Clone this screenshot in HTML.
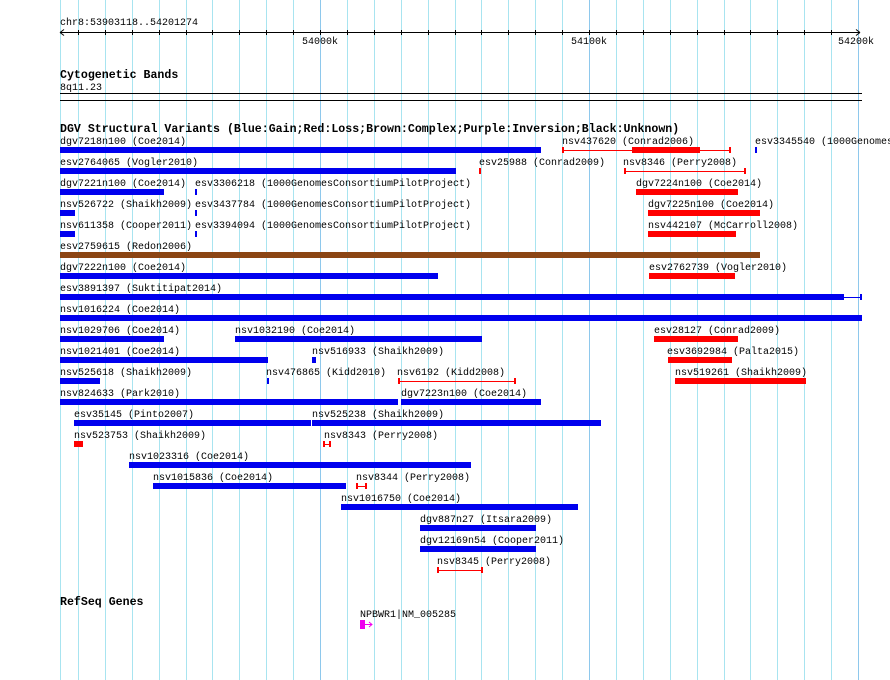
<!DOCTYPE html>
<html><head><meta charset="utf-8"><style>
html,body{margin:0;padding:0;background:#fff;width:890px;height:680px;overflow:hidden}
svg{display:block}
text{font-family:"Liberation Mono",monospace;font-size:10px;fill:#000}
.b{font-weight:bold;font-size:11.6px}
</style></head><body>
<svg width="890" height="680" xmlns="http://www.w3.org/2000/svg">
<g stroke="#a8e4f0" stroke-width="1">
<line x1="60.5" y1="0" x2="60.5" y2="680"/>
<line x1="78.5" y1="0" x2="78.5" y2="680"/><line x1="105.5" y1="0" x2="105.5" y2="680"/><line x1="132.5" y1="0" x2="132.5" y2="680"/><line x1="159.5" y1="0" x2="159.5" y2="680"/><line x1="186.5" y1="0" x2="186.5" y2="680"/><line x1="212.5" y1="0" x2="212.5" y2="680"/><line x1="239.5" y1="0" x2="239.5" y2="680"/><line x1="266.5" y1="0" x2="266.5" y2="680"/><line x1="293.5" y1="0" x2="293.5" y2="680"/>
<line x1="347.5" y1="0" x2="347.5" y2="680"/><line x1="374.5" y1="0" x2="374.5" y2="680"/><line x1="401.5" y1="0" x2="401.5" y2="680"/><line x1="428.5" y1="0" x2="428.5" y2="680"/><line x1="455.5" y1="0" x2="455.5" y2="680"/><line x1="481.5" y1="0" x2="481.5" y2="680"/><line x1="508.5" y1="0" x2="508.5" y2="680"/><line x1="535.5" y1="0" x2="535.5" y2="680"/><line x1="562.5" y1="0" x2="562.5" y2="680"/>
<line x1="616.5" y1="0" x2="616.5" y2="680"/><line x1="643.5" y1="0" x2="643.5" y2="680"/><line x1="670.5" y1="0" x2="670.5" y2="680"/><line x1="697.5" y1="0" x2="697.5" y2="680"/><line x1="724.5" y1="0" x2="724.5" y2="680"/><line x1="750.5" y1="0" x2="750.5" y2="680"/><line x1="777.5" y1="0" x2="777.5" y2="680"/><line x1="804.5" y1="0" x2="804.5" y2="680"/><line x1="831.5" y1="0" x2="831.5" y2="680"/>
</g>
<g stroke="#8ec8ec">
<line x1="320.5" y1="0" x2="320.5" y2="680"/><line x1="589.5" y1="0" x2="589.5" y2="680"/><line x1="858.5" y1="0" x2="858.5" y2="680"/>
</g>
<text x="60" y="25">chr8:53903118..54201274</text>
<line x1="60" y1="32.5" x2="860" y2="32.5" stroke="#000"/>
<path d="M60 32.5 l4 -3 M60 32.5 l4 3 M860 32.5 l-4 -3 M860 32.5 l-4 3" stroke="#000" fill="none"/>
<g stroke="#000">
<line x1="78.5" y1="30" x2="78.5" y2="35"/><line x1="105.5" y1="30" x2="105.5" y2="35"/><line x1="132.5" y1="30" x2="132.5" y2="35"/><line x1="159.5" y1="30" x2="159.5" y2="35"/><line x1="186.5" y1="30" x2="186.5" y2="35"/><line x1="212.5" y1="30" x2="212.5" y2="35"/><line x1="239.5" y1="30" x2="239.5" y2="35"/><line x1="266.5" y1="30" x2="266.5" y2="35"/><line x1="293.5" y1="30" x2="293.5" y2="35"/><line x1="320.5" y1="30" x2="320.5" y2="35"/>
<line x1="347.5" y1="30" x2="347.5" y2="35"/><line x1="374.5" y1="30" x2="374.5" y2="35"/><line x1="401.5" y1="30" x2="401.5" y2="35"/><line x1="428.5" y1="30" x2="428.5" y2="35"/><line x1="455.5" y1="30" x2="455.5" y2="35"/><line x1="481.5" y1="30" x2="481.5" y2="35"/><line x1="508.5" y1="30" x2="508.5" y2="35"/><line x1="535.5" y1="30" x2="535.5" y2="35"/><line x1="562.5" y1="30" x2="562.5" y2="35"/><line x1="589.5" y1="30" x2="589.5" y2="35"/>
<line x1="616.5" y1="30" x2="616.5" y2="35"/><line x1="643.5" y1="30" x2="643.5" y2="35"/><line x1="670.5" y1="30" x2="670.5" y2="35"/><line x1="697.5" y1="30" x2="697.5" y2="35"/><line x1="724.5" y1="30" x2="724.5" y2="35"/><line x1="750.5" y1="30" x2="750.5" y2="35"/><line x1="777.5" y1="30" x2="777.5" y2="35"/><line x1="804.5" y1="30" x2="804.5" y2="35"/><line x1="831.5" y1="30" x2="831.5" y2="35"/>
</g>
<text x="302" y="44">54000k</text>
<text x="571" y="44">54100k</text>
<text x="838" y="44">54200k</text>
<text class="b" x="60" y="78">Cytogenetic Bands</text>
<text x="60" y="90">8q11.23</text>
<line x1="60" y1="93.5" x2="862" y2="93.5" stroke="#000"/>
<line x1="60" y1="100.5" x2="862" y2="100.5" stroke="#000"/>
<text class="b" x="60" y="132">DGV Structural Variants (Blue:Gain;Red:Loss;Brown:Complex;Purple:Inversion;Black:Unknown)</text>

<text x="60" y="144">dgv7218n100 (Coe2014)</text><rect x="60" y="147" width="481" height="6" fill="#0000ee"/>
<text x="562" y="144">nsv437620 (Conrad2006)</text><line x1="562" y1="150.5" x2="731" y2="150.5" stroke="#f00"/><rect x="562" y="147" width="2" height="6" fill="#f00"/><rect x="729" y="147" width="2" height="6" fill="#f00"/><rect x="632" y="147" width="68" height="6" fill="#f00"/>
<text x="755" y="144">esv3345540 (1000GenomesConsortiumPilotProject)</text><rect x="755" y="147" width="2" height="6" fill="#0000ee"/>
<text x="60" y="165">esv2764065 (Vogler2010)</text><rect x="60" y="168" width="396" height="6" fill="#0000ee"/>
<text x="479" y="165">esv25988 (Conrad2009)</text><rect x="479" y="168" width="2" height="6" fill="#f00"/>
<text x="623" y="165">nsv8346 (Perry2008)</text><line x1="624" y1="171.5" x2="746" y2="171.5" stroke="#f00"/><rect x="624" y="168" width="2" height="6" fill="#f00"/><rect x="744" y="168" width="2" height="6" fill="#f00"/>
<text x="60" y="186">dgv7221n100 (Coe2014)</text><rect x="60" y="189" width="104" height="6" fill="#0000ee"/>
<text x="195" y="186">esv3306218 (1000GenomesConsortiumPilotProject)</text><rect x="195" y="189" width="2" height="6" fill="#0000ee"/>
<text x="636" y="186">dgv7224n100 (Coe2014)</text><rect x="636" y="189" width="102" height="6" fill="#f00"/>
<text x="60" y="207">nsv526722 (Shaikh2009)</text><rect x="60" y="210" width="15" height="6" fill="#0000ee"/>
<text x="195" y="207">esv3437784 (1000GenomesConsortiumPilotProject)</text><rect x="195" y="210" width="2" height="6" fill="#0000ee"/>
<text x="648" y="207">dgv7225n100 (Coe2014)</text><rect x="648" y="210" width="112" height="6" fill="#f00"/>
<text x="60" y="228">nsv611358 (Cooper2011)</text><rect x="60" y="231" width="15" height="6" fill="#0000ee"/>
<text x="195" y="228">esv3394094 (1000GenomesConsortiumPilotProject)</text><rect x="195" y="231" width="2" height="6" fill="#0000ee"/>
<text x="648" y="228">nsv442107 (McCarroll2008)</text><rect x="648" y="231" width="88" height="6" fill="#f00"/>
<text x="60" y="249">esv2759615 (Redon2006)</text><rect x="60" y="252" width="700" height="6" fill="#8b4513"/>
<text x="60" y="270">dgv7222n100 (Coe2014)</text><rect x="60" y="273" width="378" height="6" fill="#0000ee"/>
<text x="649" y="270">esv2762739 (Vogler2010)</text><rect x="649" y="273" width="86" height="6" fill="#f00"/>
<text x="60" y="291">esv3891397 (Suktitipat2014)</text><rect x="60" y="294" width="784" height="6" fill="#0000ee"/><line x1="844" y1="297.5" x2="861" y2="297.5" stroke="#0000ee"/><rect x="860" y="294" width="2" height="6" fill="#0000ee"/>
<text x="60" y="312">nsv1016224 (Coe2014)</text><rect x="60" y="315" width="802" height="6" fill="#0000ee"/>
<text x="60" y="333">nsv1029706 (Coe2014)</text><rect x="60" y="336" width="104" height="6" fill="#0000ee"/>
<text x="235" y="333">nsv1032190 (Coe2014)</text><rect x="235" y="336" width="247" height="6" fill="#0000ee"/>
<text x="654" y="333">esv28127 (Conrad2009)</text><rect x="654" y="336" width="84" height="6" fill="#f00"/>
<text x="60" y="354">nsv1021401 (Coe2014)</text><rect x="60" y="357" width="208" height="6" fill="#0000ee"/>
<text x="312" y="354">nsv516933 (Shaikh2009)</text><rect x="312" y="357" width="4" height="6" fill="#0000ee"/>
<text x="667" y="354">esv3692984 (Palta2015)</text><rect x="668" y="357" width="64" height="6" fill="#f00"/>
<text x="60" y="375">nsv525618 (Shaikh2009)</text><rect x="60" y="378" width="40" height="6" fill="#0000ee"/>
<text x="266" y="375">nsv476865 (Kidd2010)</text><rect x="267" y="378" width="2" height="6" fill="#0000ee"/>
<text x="397" y="375">nsv6192 (Kidd2008)</text><line x1="398" y1="381.5" x2="516" y2="381.5" stroke="#f00"/><rect x="398" y="378" width="2" height="6" fill="#f00"/><rect x="514" y="378" width="2" height="6" fill="#f00"/>
<text x="675" y="375">nsv519261 (Shaikh2009)</text><rect x="675" y="378" width="131" height="6" fill="#f00"/>
<text x="60" y="396">nsv824633 (Park2010)</text><rect x="60" y="399" width="338" height="6" fill="#0000ee"/>
<text x="401" y="396">dgv7223n100 (Coe2014)</text><rect x="401" y="399" width="140" height="6" fill="#0000ee"/>
<text x="74" y="417">esv35145 (Pinto2007)</text><rect x="74" y="420" width="237" height="6" fill="#0000ee"/>
<text x="312" y="417">nsv525238 (Shaikh2009)</text><rect x="312" y="420" width="289" height="6" fill="#0000ee"/>
<text x="74" y="438">nsv523753 (Shaikh2009)</text><rect x="74" y="441" width="9" height="6" fill="#f00"/>
<text x="324" y="438">nsv8343 (Perry2008)</text><line x1="323" y1="444.5" x2="331" y2="444.5" stroke="#f00"/><rect x="323" y="441" width="2" height="6" fill="#f00"/><rect x="329" y="441" width="2" height="6" fill="#f00"/>
<text x="129" y="459">nsv1023316 (Coe2014)</text><rect x="129" y="462" width="342" height="6" fill="#0000ee"/>
<text x="153" y="480">nsv1015836 (Coe2014)</text><rect x="153" y="483" width="193" height="6" fill="#0000ee"/>
<text x="356" y="480">nsv8344 (Perry2008)</text><line x1="356" y1="486.5" x2="367" y2="486.5" stroke="#f00"/><rect x="356" y="483" width="2" height="6" fill="#f00"/><rect x="365" y="483" width="2" height="6" fill="#f00"/>
<text x="341" y="501">nsv1016750 (Coe2014)</text><rect x="341" y="504" width="237" height="6" fill="#0000ee"/>
<text x="420" y="522">dgv887n27 (Itsara2009)</text><rect x="420" y="525" width="116" height="6" fill="#0000ee"/>
<text x="420" y="543">dgv12169n54 (Cooper2011)</text><rect x="420" y="546" width="116" height="6" fill="#0000ee"/>
<text x="437" y="564">nsv8345 (Perry2008)</text><line x1="437" y1="570.5" x2="483" y2="570.5" stroke="#f00"/><rect x="437" y="567" width="2" height="6" fill="#f00"/><rect x="481" y="567" width="2" height="6" fill="#f00"/>

<text class="b" x="60" y="605">RefSeq Genes</text>
<text x="360" y="617">NPBWR1|NM_005285</text>
<rect x="360" y="620" width="5" height="9" fill="#ee00ee"/>
<path d="M365 624.5 H372 M369 622 l3 2.5 l-3 2.5" stroke="#ee00ee" fill="none"/>
</svg>
</body></html>
